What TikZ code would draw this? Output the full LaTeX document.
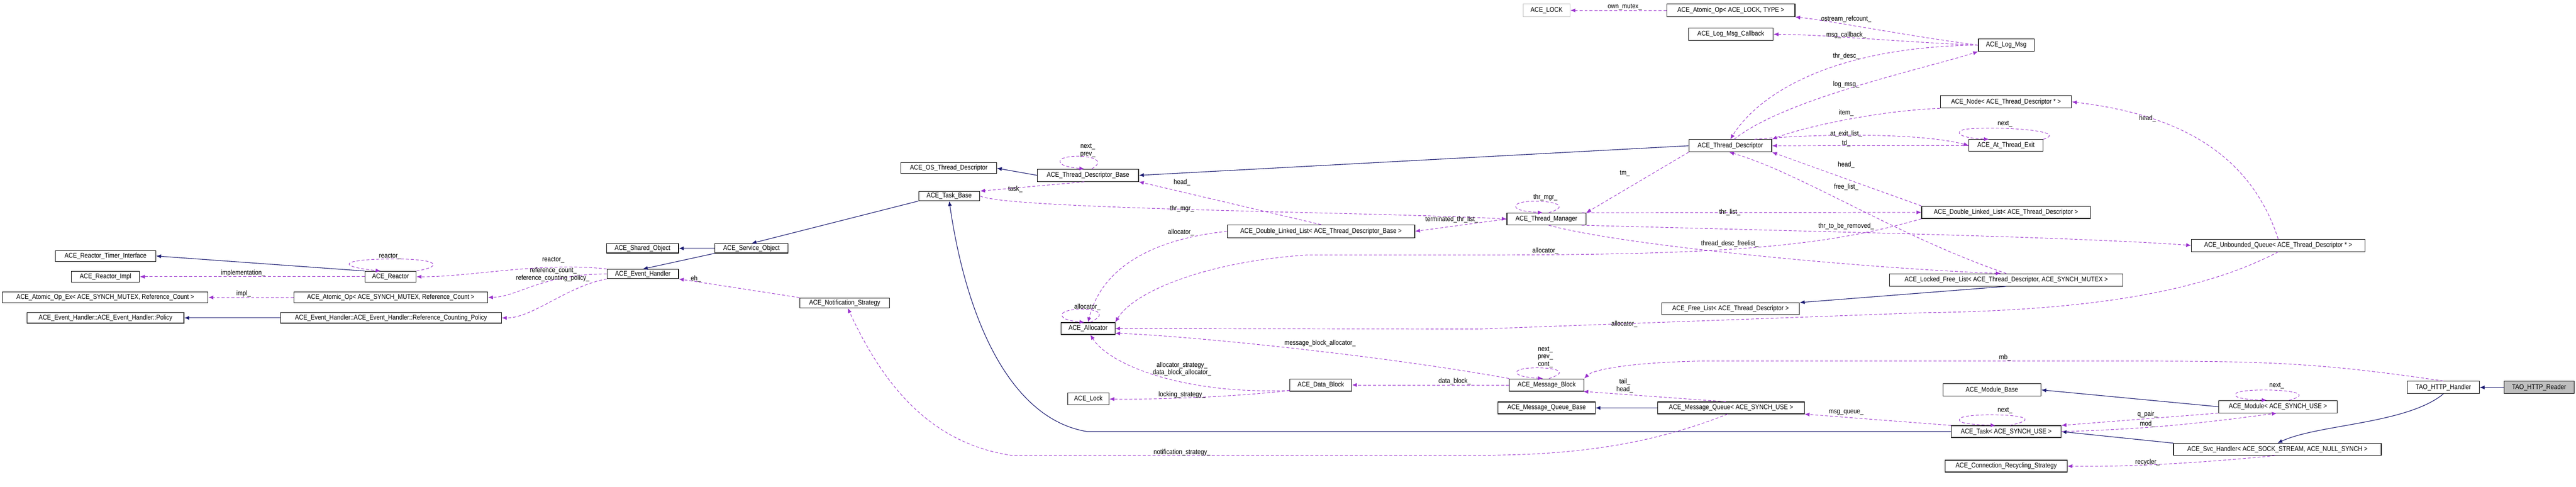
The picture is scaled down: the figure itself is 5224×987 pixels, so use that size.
\documentclass[tikz,border=0pt]{standalone}
\usepackage{fontspec}
\setmainfont[FakeStretch=0.87]{Liberation Sans}
\usetikzlibrary{arrows.meta}
\definecolor{inh}{HTML}{191970}
\definecolor{usg}{HTML}{9A32CD}
\definecolor{gry}{HTML}{BFBFBF}
\tikzset{
  box/.style={draw=black,line width=0.6pt,inner sep=0pt,fill=white,font=\fontsize{7}{8}\selectfont},
  lbl/.style={inner sep=0pt,align=center,font=\fontsize{7}{7.5}\selectfont},
  inhl/.style={draw=inh,line width=0.6pt,-{Latex[length=5pt,width=4pt]}},
  dep/.style={draw=usg,line width=0.5pt,dash pattern=on 3pt off 2pt,-{Latex[length=5pt,width=4pt]}}
}
\newcommand\bx[7][]{\node[box,#1,minimum width={(#5-#3)*0.5pt},minimum height={(#6-#4)*0.5pt}] (#2) at ({(#3+#5)/2},{(#4+#6)/2}) {#7};}
\newcommand\lb[4]{\node[lbl] (#1) at (#2,#3) {#4};}
\begin{document}
\begin{tikzpicture}[x=0.5pt,y=-0.5pt]
\useasboundingbox[fill=white] (0,0) rectangle (5224,987);
% nodes
\bx[draw=gry]{LOCK}{3089}{8}{3184}{34}{ACE\_LOCK}
\bx{AtomLock}{3380}{8}{3640}{34}{ACE\_Atomic\_Op< ACE\_LOCK, TYPE >}
\bx{Callback}{3424}{57}{3596}{82}{ACE\_Log\_Msg\_Callback}
\bx{LogMsg}{4012}{79}{4125}{104}{ACE\_Log\_Msg}
\bx{Node}{3935}{194}{4201}{219}{ACE\_Node< ACE\_Thread\_Descriptor * >}
\bx{TD}{3425}{283}{3593}{308}{ACE\_Thread\_Descriptor}
\bx{ATE}{3993}{283}{4143}{307}{ACE\_At\_Thread\_Exit}
\bx{OS}{1827}{330}{2021}{352}{ACE\_OS\_Thread\_Descriptor}
\bx{Base}{2104}{343}{2309}{368}{ACE\_Thread\_Descriptor\_Base}
\bx{TaskBase}{1863}{388}{1987}{407}{ACE\_Task\_Base}
\bx{TM}{3056}{432}{3216}{456}{ACE\_Thread\_Manager}
\bx{DLLTD}{3897}{418}{4239}{443}{ACE\_Double\_Linked\_List< ACE\_Thread\_Descriptor >}
\bx{DLLBase}{2489}{456}{2869}{482}{ACE\_Double\_Linked\_List< ACE\_Thread\_Descriptor\_Base >}
\bx{UQ}{4444}{485}{4796}{510}{ACE\_Unbounded\_Queue< ACE\_Thread\_Descriptor * >}
\bx{LFL}{3832}{555}{4305}{580}{ACE\_Locked\_Free\_List< ACE\_Thread\_Descriptor, ACE\_SYNCH\_MUTEX >}
\bx{FL}{3370}{614}{3649}{638}{ACE\_Free\_List< ACE\_Thread\_Descriptor >}
\bx{Timer}{112}{508}{316}{530}{ACE\_Reactor\_Timer\_Interface}
\bx{Impl}{145}{550}{283}{572}{ACE\_Reactor\_Impl}
\bx{Reactor}{740}{550}{844}{572}{ACE\_Reactor}
\bx{AtomEx}{5}{592}{422}{614}{ACE\_Atomic\_Op\_Ex< ACE\_SYNCH\_MUTEX, Reference\_Count >}
\bx{AtomMutex}{596}{592}{989}{614}{ACE\_Atomic\_Op< ACE\_SYNCH\_MUTEX, Reference\_Count >}
\bx{Policy}{55}{634}{373}{655}{ACE\_Event\_Handler::ACE\_Event\_Handler::Policy}
\bx{RCP}{569}{634}{1017}{655}{ACE\_Event\_Handler::ACE\_Event\_Handler::Reference\_Counting\_Policy}
\bx{Shared}{1230}{494}{1376}{513}{ACE\_Shared\_Object}
\bx{Service}{1450}{494}{1598}{513}{ACE\_Service\_Object}
\bx{EH}{1231}{546}{1376}{565}{ACE\_Event\_Handler}
\bx{NS}{1622}{604}{1804}{624}{ACE\_Notification\_Strategy}
\bx{Alloc}{2152}{654}{2261}{678}{ACE\_Allocator}
\bx{DB}{2616}{768}{2741}{793}{ACE\_Data\_Block}
\bx{Lock}{2165}{797}{2249}{821}{ACE\_Lock}
\bx{MB}{3061}{768}{3212}{793}{ACE\_Message\_Block}
\bx{MQB}{3038}{815}{3235}{839}{ACE\_Message\_Queue\_Base}
\bx{MQ}{3362}{815}{3659}{839}{ACE\_Message\_Queue< ACE\_SYNCH\_USE >}
\bx{Task}{3957}{863}{4180}{887}{ACE\_Task< ACE\_SYNCH\_USE >}
\bx{CRS}{3945}{933}{4192}{957}{ACE\_Connection\_Recycling\_Strategy}
\bx{ModBase}{3940}{778}{4139}{803}{ACE\_Module\_Base}
\bx{Mod}{4499}{812}{4740}{837}{ACE\_Module< ACE\_SYNCH\_USE >}
\bx{Svc}{4408}{899}{4829}{923}{ACE\_Svc\_Handler< ACE\_SOCK\_STREAM, ACE\_NULL\_SYNCH >}
\bx{Handler}{4882}{773}{5028}{798}{TAO\_HTTP\_Handler}
\bx[fill=gry]{Reader}{5078}{773}{5220}{798}{TAO\_HTTP\_Reader}
% inheritance
\draw[inhl] (Reader.west) -- (Handler.east);
\draw[inhl] (Handler.south) .. controls (4880,860) and (4700,860) .. (Svc.north);
\draw[inhl] (Svc.north west) -- (Task.east);
\draw[inhl] (Task.west) -- (2205,875) .. controls (2050,850) and (1960,650) .. (TaskBase.south);
\draw[inhl] (Mod.west) -- (ModBase.east);
\draw[inhl] (MQ.west) -- (MQB.east);
\draw[inhl] (LFL.south) -- (FL.north east);
\draw[inhl] (TD.west) -- (Base.east);
\draw[inhl] (Base.west) -- (OS.east);
\draw[inhl] (TaskBase.south west) -- (Service.north);
\draw[inhl] (Service.west) -- (Shared.east);
\draw[inhl] (Service.south west) -- (EH.north);
\draw[inhl] (RCP.west) -- (Policy.east);
\draw[inhl] (Reactor.north west) -- (Timer.east);
% usage
\draw[dep] (AtomLock.west) -- (LOCK.east);
\draw[dep] (LogMsg.west) .. controls (3850,70) and (3700,40) .. (AtomLock.south east);
\draw[dep] (LogMsg.west) .. controls (3850,85) and (3700,70) .. (Callback.east);
\draw[dep] (LogMsg.west) .. controls (3700,95) and (3560,200) .. (TD.north);
\draw[dep] (TD.60) .. controls (3620,200) and (3900,140) .. (LogMsg.south west);
\draw[dep] (Node.south west) .. controls (3800,225) and (3650,260) .. (TD.north east);
\draw[dep] (TD.15) .. controls (3700,270) and (3900,270) .. (ATE.west);
\draw[dep] (ATE.west) -- (TD.east);
\draw[dep] (ATE.north east) .. controls (4200,265) and (4050,255) .. (3985,262) .. controls (3960,268) and (3975,280) .. (ATE.160);
\draw[dep] (DLLTD.north west) -- (TD.south east);
\draw[dep] (LFL.north) .. controls (3850,480) and (3650,350) .. (TD.-100);
\draw[dep] (TD.south west) -- (TM.north east);
\draw[dep] (TM.70) .. controls (3210,410) and (3090,400) .. (3075,415) .. controls (3070,422) and (3078,428) .. (TM.120);
\draw[dep] (TM.10) -- (DLLTD.west);
\draw[dep] (TM.-10) .. controls (3700,470) and (4200,480) .. (UQ.west);
\draw[dep] (TM.-70) .. controls (3300,500) and (3800,545) .. (LFL.130);
\draw[dep] (TM.west) -- (DLLBase.east);
\draw[dep] (TaskBase.east) .. controls (2050,425) and (2800,430) .. (TM.west);
\draw[dep] (Base.-120) -- (TaskBase.north east);
\draw[dep] (Base.60) .. controls (2260,315) and (2160,310) .. (2150,325) .. controls (2148,332) and (2155,338) .. (Base.120);
\draw[dep] (DLLBase.north) -- (Base.south east);
\draw[dep] (DLLBase.west) .. controls (2380,480) and (2240,520) .. (Alloc.north);
\draw[dep] (Alloc.70) .. controls (2270,625) and (2170,620) .. (2155,635) .. controls (2150,642) and (2158,650) .. (Alloc.120);
\draw[dep] (DLLTD.south west) .. controls (3700,500) and (3500,517) .. (3000,517) -- (2650,517) .. controls (2450,530) and (2300,590) .. (Alloc.north east);
\draw[dep] (UQ.south) .. controls (4450,600) and (4200,630) .. (3900,634) -- (3000,667) -- (Alloc.east);
\draw[dep] (UQ.north) .. controls (4560,300) and (4400,230) .. (Node.east);
\draw[dep] (MB.north west) .. controls (2800,720) and (2400,680) .. (Alloc.-10);
\draw[dep] (MB.west) -- (DB.east);
\draw[dep] (DB.-170) .. controls (2400,800) and (2250,740) .. (Alloc.-70);
\draw[dep] (DB.-170) .. controls (2500,805) and (2350,810) .. (Lock.east);
\draw[dep] (MB.70) .. controls (3210,745) and (3090,740) .. (3077,752) .. controls (3073,758) and (3078,764) .. (MB.120);
\draw[dep] (MQ.130) -- (MB.-10);
\draw[dep] (Handler.north) .. controls (4700,735) and (4600,732) .. (4300,732) -- (3450,732) .. controls (3300,735) and (3230,750) .. (MB.north east);
\draw[dep] (Task.north west) -- (MQ.south east);
\draw[dep] (Task.60) .. controls (4180,840) and (3990,835) .. (3975,848) .. controls (3970,855) and (3975,860) .. (Task.150);
\draw[dep] (Mod.south west) -- (Task.north east);
\draw[dep] (Task.east) .. controls (4350,870) and (4450,860) .. (Mod.-100);
\draw[dep] (Mod.30) .. controls (4720,790) and (4550,785) .. (4535,797) .. controls (4530,804) and (4535,809) .. (Mod.150);
\draw[dep] (Svc.-110) .. controls (4450,940) and (4300,947) .. (CRS.east);
\draw[dep] (MQ.-120) .. controls (3350,900) and (3200,923) .. (3000,923) -- (2050,923) .. controls (1900,900) and (1800,800) .. (NS.-60);
\draw[dep] (NS.north west) -- (EH.south east);
\draw[dep] (EH.north west) .. controls (1100,530) and (950,562) .. (Reactor.east);
\draw[dep] (EH.west) .. controls (1100,555) and (1050,602) .. (AtomMutex.east);
\draw[dep] (EH.south west) .. controls (1150,580) and (1080,645) .. (RCP.east);
\draw[dep] (AtomMutex.west) -- (AtomEx.east);
\draw[dep] (Reactor.west) -- (Impl.east);
\draw[dep] (Reactor.north east) .. controls (900,540) and (890,525) .. (800,525) .. controls (690,525) and (680,540) .. (Reactor.150);
% labels
\lb{l1}{3295}{14}{own\_mutex\_}
\lb{l2}{3744}{39}{ostream\_refcount\_}
\lb{l3}{3744}{71}{msg\_callback\_}
\lb{l4}{3744}{114}{thr\_desc\_}
\lb{l5}{3744}{171}{log\_msg\_}
\lb{l6}{3744}{229}{item\_}
\lb{l7}{3744}{272}{at\_exit\_list\_}
\lb{l8}{3744}{290}{td\_}
\lb{l9}{3744}{334}{head\_}
\lb{l10}{3744}{379}{free\_list\_}
\lb{l11}{3295}{352}{tm\_}
\lb{l12}{3134}{400}{thr\_mgr\_}
\lb{l13}{3508}{430}{thr\_list\_}
\lb{l14}{3744}{459}{thr\_to\_be\_removed\_}
\lb{l15}{3508}{494}{thread\_desc\_freelist\_}
\lb{l16}{4355}{240}{head\_}
\lb{l17}{4066}{251}{next\_}
\lb{l18}{2206}{305}{next\_\\prev\_}
\lb{l19}{2397}{370}{head\_}
\lb{l20}{2059}{383}{task\_}
\lb{l21}{2397}{423}{thr\_mgr\_}
\lb{l22}{2944}{445}{terminated\_thr\_list\_}
\lb{l23}{2395}{471}{allocator\_}
\lb{l24}{3134}{509}{allocator\_}
\lb{l25}{3294}{657}{allocator\_}
\lb{l26}{2205}{623}{allocator\_}
\lb{l27}{2677}{696}{message\_block\_allocator\_}
\lb{l28}{2397}{748}{allocator\_strategy\_\\data\_block\_allocator\_}
\lb{l29}{2950}{773}{data\_block\_}
\lb{l30}{2397}{800}{locking\_strategy\_}
\lb{l31}{2397}{917}{notification\_strategy\_}
\lb{l32}{3134}{724}{next\_\\prev\_\\cont\_}
\lb{l33}{3295}{782}{tail\_\\head\_}
\lb{l34}{3744}{836}{msg\_queue\_}
\lb{l35}{4066}{725}{mb\_}
\lb{l36}{4617}{782}{next\_}
\lb{l37}{4066}{832}{next\_}
\lb{l38}{4355}{840}{q\_pair\_}
\lb{l39}{4355}{860}{mod\_}
\lb{l40}{4355}{937}{recycler\_}
\lb{l41}{1122}{527}{reactor\_}
\lb{l42}{1122}{549}{reference\_count\_}
\lb{l43}{1121}{564}{reference\_counting\_policy\_}
\lb{l44}{1411}{565}{eh\_}
\lb{l45}{791}{520}{reactor\_}
\lb{l46}{493}{554}{implementation\_}
\lb{l47}{494}{596}{impl\_}
\end{tikzpicture}
\end{document}
